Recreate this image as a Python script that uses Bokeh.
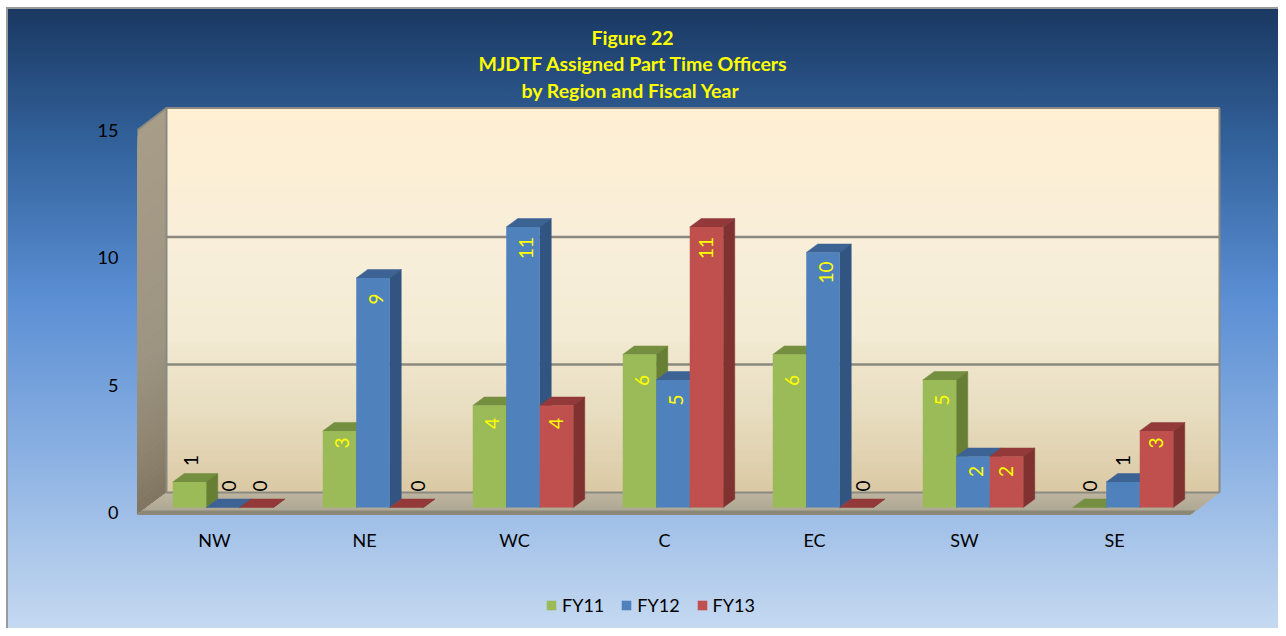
from math import pi
from bokeh.plotting import figure
from bokeh.models import Legend, LegendItem, FixedTicker, Range1d, Title
from bokeh.core.properties import value
from bokeh.embed import file_html
from bokeh.resources import INLINE

categories = ["NW", "NE", "WC", "C", "EC", "SW", "SE"]
fy11 = [1, 3, 4, 6, 6, 5, 0]
fy12 = [0, 9, 11, 5, 10, 2, 1]
fy13 = [0, 0, 4, 11, 0, 2, 3]
series_names = ["FY11", "FY12", "FY13"]
y_ticks = [0, 5, 10, 15]
grid_values = [5, 10]
title_lines = ["Figure 22", "MJDTF Assigned Part Time Officers", "by Region and Fiscal Year"]
title_lefts = [591, 478, 521]

front_colors = ["#9bbb59", "#4f81bd", "#c0504d"]
side_colors = ["#667f34", "#325480", "#803230"]
top_colors = ["#748f3f", "#3c6394", "#93393a"]
FONT = "Lato"

PX_X, PX_Y = 150.0, 25.5
def dx(px): return px / PX_X
def dy(px): return px / PX_Y

W, H = 1278, 628
FRAME_L, FRAME_R, FRAME_T, FRAME_B = 130, 1240, 104, 628
TICK0_X, TICK0_Y = 214, 512

# how far a value label sits below its bar top, by value, and sideways nudges (pixels)
label_drop = {2: 15, 3: 12, 4: 18, 5: 20, 6: 26, 9: 21, 10: 20, 11: 21}
inside_shift = [2.5, 2.5, -0.5]
outside_shift = {(0, 0): 1.5, (1, 0): 6, (2, 0): 3, (2, 1): 11, (2, 4): 6, (0, 6): 0, (1, 6): 0}

def hex2rgb(h): return tuple(int(h[i:i + 2], 16) for i in (1, 3, 5))
def ramp(stops, t):
    for (a, ca), (b, cb) in zip(stops, stops[1:]):
        if t <= b:
            f = (t - a) / (b - a)
            ra, rb = hex2rgb(ca), hex2rgb(cb)
            return "#%02x%02x%02x" % tuple(round(x + (y - x) * f) for x, y in zip(ra, rb))
    return stops[-1][1]

p = figure(
    width=W, height=H, output_backend="svg", toolbar_location=None,
    x_range=Range1d(dx(FRAME_L - TICK0_X), dx(FRAME_R - TICK0_X)),
    y_range=Range1d(dy(TICK0_Y - FRAME_B), dy(TICK0_Y - FRAME_T)),
    min_border_left=FRAME_L, min_border_right=W - FRAME_R,
    min_border_top=FRAME_T, min_border_bottom=H - FRAME_B,
    background_fill_color=None, border_fill_color=None, outline_line_color=None,
)
p.styles = {
    "background": "linear-gradient(#fff,#fff) 0 0/6px 100% no-repeat,"
                  "linear-gradient(#fff,#fff) 0 0/100% 7px no-repeat,"
                  "linear-gradient(#9a9a9a,#9a9a9a) 6px 7px/2px 100% no-repeat,"
                  "linear-gradient(#9a9a9a,#9a9a9a) 6px 7px/100% 2px no-repeat,"
                  "linear-gradient(180deg,#18365e 0%,#34649e 24%,#5a8ed3 47%,#8ab0e2 72%,#c5d9f1 100%)",
}
for k, (line, left) in enumerate(reversed(list(zip(title_lines, title_lefts)))):
    p.add_layout(Title(text=line, align="left", offset=left - FRAME_L, standoff=4 if k == 0 else 1,
                       vertical_align="middle" if k == 0 else "bottom",
                       text_color="#ffff00", text_font=FONT, text_font_size="19.5px",
                       text_font_style="bold"), "above")

p.xgrid.visible = False
p.ygrid.visible = False
for ax in (p.xaxis[0], p.yaxis[0]):
    ax.axis_line_color = None
    ax.major_tick_line_color = None
    ax.minor_tick_line_color = None
    ax.major_label_text_font = FONT
    ax.major_label_text_font_size = "18px"
    ax.major_label_text_color = "#000000"
p.yaxis[0].ticker = FixedTicker(ticks=y_ticks)
p.yaxis[0].major_label_standoff = 6
p.xaxis[0].ticker = FixedTicker(ticks=list(range(len(categories))))
p.xaxis[0].major_label_overrides = dict(enumerate(categories))
p.xaxis[0].major_label_standoff = 10
p.xaxis[0].fixed_location = dy(TICK0_Y - 512)

DEPTH_X, DEPTH_Y = 29, 22
wall_x0, wall_x1 = dx(137 - TICK0_X), dx(1190 - TICK0_X)
floor_y = dy(-2)
wall_top = 15.0
bx0, bx1 = wall_x0 + dx(DEPTH_X), wall_x1 + dx(DEPTH_X)
by0 = floor_y + dy(DEPTH_Y)
by1 = wall_top + dy(DEPTH_Y)

STRIPS = 64
back_stops = [(0, "#ffefd3"), (0.4, "#f7eeda"), (0.58, "#f3ebd4"), (0.8, "#e7dcbf"), (1, "#dac9a4")]
for k in range(STRIPS):
    t0 = k / STRIPS
    c = ramp(back_stops, t0 + 0.5 / STRIPS)
    p.quad(left=bx0, right=bx1, top=by1 + (by0 - by1) * t0, bottom=by0, fill_color=c, line_color=None)

left_stops = [(0, "#a89d88"), (0.6, "#9d9482"), (0.85, "#8e8470"), (1, "#7f7560")]
fy = lambda t: wall_top + (floor_y - wall_top) * t
for k in range(STRIPS):
    t0 = k / STRIPS
    c = ramp(left_stops, t0 + 0.5 / STRIPS)
    p.patch([wall_x0, bx0, bx0, wall_x0],
            [fy(t0), fy(t0) + dy(DEPTH_Y), by0, floor_y],
            fill_color=c, line_color=None)

floor_stops = [(0, "#bfb5a0"), (0.8, "#aea894"), (0.84, "#8c8878"), (1, "#8c8878")]
yy = lambda t: by0 + (floor_y - by0) * t
xs0 = lambda t: bx0 + (wall_x0 - bx0) * t
xs1 = lambda t: bx1 + (wall_x1 - bx1) * t
for k in range(24):
    t0 = k / 24
    c = ramp(floor_stops, t0 + 0.5 / 24)
    p.patch([xs0(t0), xs1(t0), xs1(1), xs0(1)], [yy(t0), yy(t0), yy(1), yy(1)],
            fill_color=c, line_color=None)

edge = "#8b8a80"
GRID_UP = DEPTH_Y - 1.5
p.segment(x0=[bx0] * len(grid_values), x1=[bx1] * len(grid_values),
          y0=[v + dy(GRID_UP) for v in grid_values], y1=[v + dy(GRID_UP) for v in grid_values],
          line_color=edge, line_width=2.5)
p.line([bx0, bx0, bx1, bx1], [by0, by1, by1, by0], line_color=edge, line_width=2)
p.line([wall_x0, bx0], [wall_top, by1], line_color=edge, line_width=2)
p.line([bx0, bx1], [by0, by0], line_color=edge, line_width=2)

BAR_W = dx(33.5)
GROUP_SHIFT = dx(8.5)
BAR_DX, BAR_DY = dx(11.5), dy(8.5)
base = dy(5)
legend_items = []
for s, vals in enumerate([fy11, fy12, fy13]):
    lefts = [i + GROUP_SHIFT + (s - 1.5) * BAR_W for i in range(len(vals))]
    rights = [l + BAR_W for l in lefts]
    tops = [base + v for v in vals]
    p.patches(
        xs=[[l, r, r + BAR_DX, l + BAR_DX] for l, r in zip(lefts, rights)],
        ys=[[t, t, t + BAR_DY, t + BAR_DY] for t in tops],
        fill_color=top_colors[s], line_color=top_colors[s], line_width=0.5)
    p.patches(
        xs=[[r, r + BAR_DX, r + BAR_DX, r] for r in rights],
        ys=[[base, base + BAR_DY, t + BAR_DY, t] for t in tops],
        fill_color=side_colors[s], line_color=side_colors[s], line_width=0.5)
    r = p.quad(left=lefts, right=rights, top=tops, bottom=[base] * len(vals),
               fill_color=front_colors[s], line_color=None)
    legend_items.append(LegendItem(label=series_names[s], renderers=[r]))

    inside = [i for i, v in enumerate(vals) if v >= 2]
    outside = [i for i, v in enumerate(vals) if v < 2]
    centers = [(l + q) / 2 for l, q in zip(lefts, rights)]
    p.text(x=[centers[i] + dx(inside_shift[s]) for i in inside],
           y=[tops[i] - dy(label_drop[vals[i]]) for i in inside],
           text=[str(vals[i]) for i in inside], angle=pi / 2, text_align="center",
           text_baseline="middle", text_color="#ffff00", text_font=value(FONT), text_font_size="19px")
    p.text(x=[centers[i] + dx(outside_shift.get((s, i), 0)) for i in outside],
           y=[tops[i] + dy(16) for i in outside],
           text=[str(vals[i]) for i in outside], angle=pi / 2, text_align="left",
           text_baseline="middle", text_color="#000000", text_font=value(FONT), text_font_size="19px")

legend = Legend(items=legend_items, orientation="horizontal", location=(415, 12),
                background_fill_alpha=0, border_line_color=None, glyph_width=12, glyph_height=12,
                label_text_font=FONT, label_text_font_size="18px", label_text_color="#000000",
                spacing=16, label_standoff=5, margin=0, padding=6)
p.add_layout(legend)

open("out.html", "w").write(file_html(p, INLINE))
